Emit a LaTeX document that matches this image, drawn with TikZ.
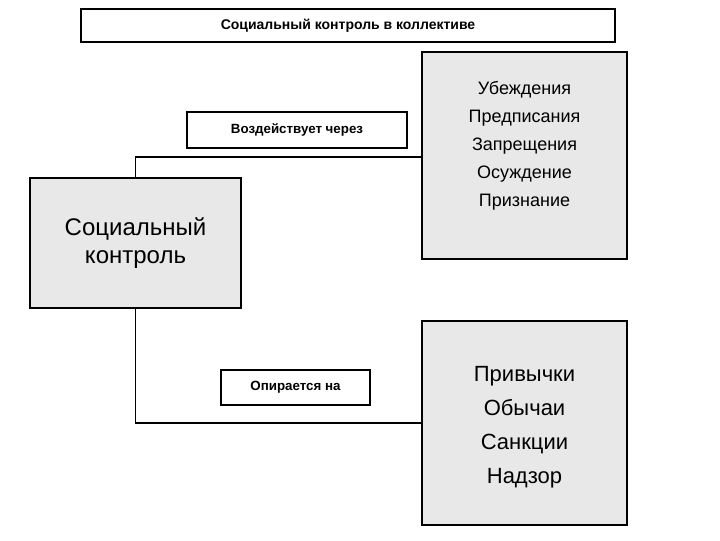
\documentclass[tikz,border=0pt]{standalone}
\usepackage{fontspec}
\setmainfont{Liberation Sans}
\begin{document}
\begin{tikzpicture}[x=0.75pt,y=-0.75pt,
  bx/.style={draw=black,line width=1.5pt},
  gbx/.style={bx,fill=gray!18},
  ln/.style={draw=black,line width=1.2pt}]
\useasboundingbox (0,0) rectangle (720,540);
\draw[bx,fill=white] (81,9) rectangle (615,42);
\node[font=\bfseries\fontsize{10.5}{12}\selectfont] (title) at (348,25.5) {Социальный контроль в коллективе};
\draw[gbx] (30,178) rectangle (241,308);
\node[font=\fontsize{18}{21}\selectfont,align=center] (sc) at (135.5,243) {Социальный\\контроль};
\draw[gbx] (422,52) rectangle (627,259);
\node[font=\fontsize{13.5}{21}\selectfont,align=center] (r1) at (524.5,146) {Убеждения\\Предписания\\Запрещения\\Осуждение\\Признание};
\draw[gbx] (422,321) rectangle (627,525);
\node[font=\fontsize{16.5}{25.5}\selectfont,align=center] (r2) at (524.5,427) {Привычки\\Обычаи\\Санкции\\Надзор};
\coordinate (a1) at (135.5,178);
\coordinate (a2) at (135.5,157);
\coordinate (a3) at (422,157);
\coordinate (b1) at (135.5,308);
\coordinate (b2) at (135.5,423);
\coordinate (b3) at (422,423);
\draw[ln] (a1) -- (a2) -- (a3);
\draw[ln] (b1) -- (b2) -- (b3);
\draw[bx,fill=white] (187,112) rectangle (407,148);
\node[font=\bfseries\fontsize{10}{12}\selectfont] (v) at (297,130) {Воздействует через};
\draw[bx,fill=white] (221,370) rectangle (370,405);
\node[font=\bfseries\fontsize{10}{12}\selectfont] (o) at (295.5,387.5) {Опирается на};
\end{tikzpicture}
\end{document}
